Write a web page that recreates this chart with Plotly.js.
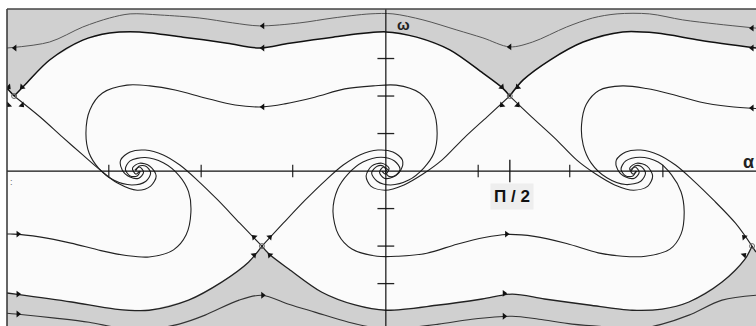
<!DOCTYPE html>
<html>
<head>
<meta charset="utf-8">
<script src="https://cdn.plot.ly/plotly-3.0.1.min.js"></script>
<style>
  html, body { margin: 0; padding: 0; background: #ffffff; }
  #plot { width: 756px; height: 326px; }
</style>
</head>
<body>
<div id="plot"></div>
<script>
// Phase portrait of a damped rotor: angle alpha (rad) against angular velocity omega.
const X_RANGE = [-4.80, 4.69];
const Y_RANGE = [-4.13, 4.32];

// Separatrix bounding the upper band (through the saddles at alpha = -3pi/2 and pi/2)
const sepTopX = [-4.80,-4.71,null,-4.71,-4.55,-4.26,-3.84,-3.50,-3.12,-2.57,-2.01,-1.60,-1.22,-0.67,0,0.39,0.81,1.23,1.48,1.57,null,1.57,1.74,2.08,2.50,3.00,3.43,3.98,4.69];
const sepTopY = [2.21,2.00,null,2.00,2.35,2.96,3.49,3.68,3.71,3.57,3.41,3.28,3.41,3.57,3.71,3.57,3.23,2.61,2.21,2.00,null,2.00,2.43,2.96,3.44,3.71,3.68,3.49,3.28];

// Separatrix bounding the lower band (through the saddles at alpha = -pi/2 and 3pi/2)
const sepBotX = [-4.80,-4.69,-3.98,-3.43,-3.00,-2.50,-2.08,-1.74,-1.57,null,-1.57,-1.48,-1.23,-0.81,-0.39,0,0.67,1.22,1.60,2.01,2.57,3.12,3.50,3.84,4.26,4.55,4.64,null,4.64,4.69];
const sepBotY = [-3.25,-3.28,-3.49,-3.68,-3.71,-3.44,-2.96,-2.43,-2.00,null,-2.00,-2.21,-2.61,-3.23,-3.57,-3.71,-3.57,-3.41,-3.28,-3.41,-3.57,-3.71,-3.68,-3.49,-2.96,-2.35,-2.00,null,-2.00,-2.16];

// Rotating trajectories inside the bands
const runTopX = [-4.80,-4.26,-3.84,-3.50,-3.24,-2.86,-2.36,-1.94,-1.60,-1.09,-0.67,-0.20,0.09,0.47,0.90,1.23,1.57,1.86,2.29,2.62,2.93,3.34,3.76,4.19,4.69];
const runTopY = [3.28,3.44,3.84,4.08,4.19,4.16,4.08,3.95,3.87,3.95,4.08,4.19,4.19,4.03,3.76,3.55,3.31,3.44,3.84,4.08,4.19,4.19,4.03,3.92,3.81];
const runBotX = [-4.80,-4.69,-4.19,-3.76,-3.34,-2.93,-2.62,-2.29,-1.86,-1.57,-1.23,-0.90,-0.47,-0.09,0.20,0.67,1.09,1.60,1.94,2.36,2.86,3.24,3.50,3.84,4.26,4.69];
const runBotY = [-3.79,-3.81,-3.92,-4.03,-4.19,-4.19,-4.08,-3.84,-3.44,-3.31,-3.55,-3.76,-4.03,-4.19,-4.19,-4.08,-3.95,-3.87,-3.95,-4.08,-4.16,-4.19,-4.08,-3.84,-3.44,-3.31];

// Trajectory leaving the focus at 0, looping over the top and winding into the focus at -pi
const upperLoopX = [0.01,-0.03,-0.11,-0.18,-0.11,0.06,0.29,0.48,0.61,0.65,0.60,0.43,0.13,-0.16,-0.52,-0.90,-1.28,-1.56,-1.91,-2.29,-2.67,-2.99,-3.28,-3.59,-3.75,-3.80,-3.76,-3.64,-3.45,-3.22,-3.04,-2.98,-3.04,-3.13,-3.17];
const upperLoopY = [0,0.13,0.13,-0.05,-0.27,-0.37,-0.24,0.08,0.48,1.01,1.63,2.08,2.29,2.27,2.19,1.97,1.79,1.71,1.76,1.95,2.16,2.27,2.29,2.08,1.63,1.01,0.48,0.08,-0.24,-0.37,-0.27,-0.05,0.13,0.13,0];
// Its counterpart below the axis, from the focus at 0 to the focus at pi
const lowerLoopX = [-0.01,0.03,0.11,0.18,0.11,-0.06,-0.29,-0.48,-0.61,-0.67,-0.60,-0.43,-0.11,0.16,0.52,0.90,1.25,1.53,1.88,2.29,2.69,3.00,3.29,3.60,3.74,3.78,3.74,3.62,3.45,3.22,3.04,2.98,3.04,3.13,3.17];
const lowerLoopY = [0,-0.13,-0.13,0.05,0.27,0.37,0.24,-0.08,-0.48,-1.08,-1.70,-2.08,-2.27,-2.27,-2.19,-1.95,-1.77,-1.69,-1.74,-1.93,-2.18,-2.27,-2.27,-2.08,-1.68,-1.08,-0.55,-0.10,0.24,0.37,0.27,0.05,-0.13,-0.13,0];
// Partial trajectories entering from the right and left edges
const rightLoopX = [4.74,4.35,3.98,3.62,3.30,3.00,2.70,2.54,2.48,2.50,2.60,2.80,3.04,3.23,3.29,3.23,3.15,3.11];
const rightLoopY = [1.66,1.72,1.84,2.05,2.20,2.27,2.15,1.78,1.25,0.70,0.22,-0.18,-0.36,-0.27,-0.05,0.13,0.13,0];
const leftLoopX = [-5.00,-4.72,-4.37,-3.99,-3.61,-3.29,-3.00,-2.69,-2.53,-2.47,-2.50,-2.62,-2.82,-3.05,-3.24,-3.30,-3.24,-3.15,-3.11];
const leftLoopY = [-1.70,-1.68,-1.76,-1.92,-2.12,-2.25,-2.29,-2.10,-1.70,-1.10,-0.55,-0.12,0.22,0.36,0.27,0.05,-0.13,-0.13,0];

// Outgoing separatrices from each saddle winding into neighbouring foci
const sadA1X = [-4.71,-4.38,-4.10,-3.84,-3.62,-3.40,-3.15,-2.98,-2.91,-2.99,-3.12,-3.21,-3.17,-3.12];
const sadA1Y = [2.00,1.44,0.91,0.43,0.03,-0.32,-0.51,-0.40,-0.13,0.13,0.21,0.08,-0.08,0];
const sadB1X = [-1.57,-1.85,-2.13,-2.39,-2.61,-2.82,-3.05,-3.24,-3.36,-3.34,-3.24,-3.13,-3.07,-3.12,-3.18];
const sadB1Y = [-2.00,-1.39,-0.77,-0.24,0.16,0.43,0.56,0.51,0.29,0.03,-0.16,-0.19,-0.03,0.11,0.03];
const sadB2X = [-1.57,-1.30,-1.02,-0.76,-0.54,-0.33,-0.10,0.09,0.21,0.19,0.09,-0.02,-0.08,-0.03,0.03];
const sadB2Y = [-2.00,-1.39,-0.77,-0.24,0.16,0.43,0.56,0.51,0.29,0.03,-0.16,-0.19,-0.03,0.11,0.03];
const sadC1X = [1.57,1.28,0.99,0.71,0.47,0.23,-0.01,-0.19,-0.25,-0.18,-0.05,0.04,0,-0.05];
const sadC1Y = [2.00,1.44,0.88,0.29,-0.08,-0.37,-0.51,-0.40,-0.13,0.13,0.21,0.08,-0.08,0];
const sadC2X = [1.57,1.85,2.14,2.42,2.66,2.90,3.14,3.32,3.38,3.31,3.18,3.09,3.13,3.18];
const sadC2Y = [2.00,1.44,0.88,0.29,-0.08,-0.37,-0.51,-0.40,-0.13,0.13,0.21,0.08,-0.08,0];
const sadD1X = [4.64,4.43,4.15,3.89,3.67,3.46,3.23,3.04,2.92,2.94,3.04,3.15,3.21,3.16,3.10];
const sadD1Y = [-2.00,-1.39,-0.77,-0.24,0.16,0.43,0.56,0.51,0.29,0.03,-0.16,-0.19,-0.03,0.11,0.03];

// Saddle points
const saddleX = [-4.71, 1.57, -1.57, 4.64];
const saddleY = [2.00, 2.00, -2.00, -2.00];

// Direction arrows (angle in degrees, clockwise from up)
const arrowX = [-4.70,-1.56,1.57,4.64, -1.56,4.64, -1.56, 4.64,
                -4.66,-4.66,-4.66, -1.56, 1.50, 1.50, 1.53,
                -4.78,-4.61,-4.78,-4.61, 1.47,1.67,1.47,1.67,
                -1.67,-1.47,-1.67,-1.47, 4.54,4.54];
const arrowY = [3.28,3.87,3.31,3.81, 3.28,3.28, 1.71, 1.68,
                -1.68,-3.28,-3.81, -3.31, -3.26, -3.87, -1.68,
                2.24,2.24,1.76,1.76, 2.24,2.24,1.76,1.76,
                -2.24,-2.24,-1.76,-1.76, -2.24,-1.76];
const arrowAngle = [270,270,270,270, 270,270, 270, 270,
                    90,90,90, 90, 90, 90, 90,
                    135,225,225,135, 135,225,225,135,
                    45,315,315,45, 45,315];

// Axis tick positions
const alphaTicks = [-3.51, -2.34, -1.18, 1.17, 2.33, 3.51];
const alphaMark = [1.571];
const omegaTicks = [-3, -2, -1, 1, 2, 3];

const BAND = '#d0d0d0';
const X_FAR = [-5.2, 5.2];
const Y_FAR = [-4.6, 4.8];

function band(xs, ys, yEdge) {
  const px = [], py = [];
  xs.forEach((v, i) => { if (v !== null) { px.push(v); py.push(ys[i]); } });
  px.unshift(X_FAR[0]); py.unshift(py[0]);
  px.push(X_FAR[1], X_FAR[1], X_FAR[0], X_FAR[0]);
  py.push(py[py.length - 1], yEdge, yEdge, py[0]);
  return { x: px, y: py, type: 'scatter', mode: 'lines', fill: 'toself',
           fillcolor: BAND, line: { width: 0 }, hoverinfo: 'skip' };
}

function path(xs, ys, color, width) {
  return { x: xs, y: ys, type: 'scatter', mode: 'lines',
           line: { color: color, width: width, shape: 'spline', smoothing: 0.9 },
           connectgaps: false, hoverinfo: 'skip' };
}

const traces = [
  band(sepTopX, sepTopY, Y_FAR[1]),
  band(sepBotX, sepBotY, Y_FAR[0]),
  path(runTopX, runTopY, '#555555', 1.0),
  path(runBotX, runBotY, '#333333', 1.1),
  path(sepTopX, sepTopY, '#111111', 1.5),
  path(sepBotX, sepBotY, '#222222', 1.3),
  path(upperLoopX, upperLoopY, '#222222', 1.1),
  path(lowerLoopX, lowerLoopY, '#222222', 1.1),
  path(rightLoopX, rightLoopY, '#222222', 1.1),
  path(leftLoopX, leftLoopY, '#222222', 1.1),
  path(sadA1X, sadA1Y, '#222222', 1.1),
  path(sadB1X, sadB1Y, '#222222', 1.1),
  path(sadB2X, sadB2Y, '#222222', 1.1),
  path(sadC1X, sadC1Y, '#222222', 1.1),
  path(sadC2X, sadC2Y, '#222222', 1.1),
  path(sadD1X, sadD1Y, '#222222', 1.1),
  { x: alphaTicks, y: alphaTicks.map(() => 0), type: 'scatter', mode: 'markers',
    marker: { symbol: 'line-ns', size: 9, color: '#222222', line: { width: 1.2, color: '#222222' } }, hoverinfo: 'skip' },
  { x: alphaMark, y: [0], type: 'scatter', mode: 'markers',
    marker: { symbol: 'line-ns', size: 16, color: '#222222', line: { width: 1.4, color: '#222222' } }, hoverinfo: 'skip' },
  { x: omegaTicks.map(() => 0), y: omegaTicks, type: 'scatter', mode: 'markers',
    marker: { symbol: 'line-ew', size: 12, color: '#222222', line: { width: 1.3, color: '#222222' } }, hoverinfo: 'skip' },
  { x: saddleX, y: saddleY, type: 'scatter', mode: 'markers',
    marker: { symbol: 'circle-open', size: 5, color: '#666666', line: { width: 1, color: '#666666' } }, hoverinfo: 'skip' },
  { x: arrowX, y: arrowY, type: 'scatter', mode: 'markers',
    marker: { symbol: 'triangle-up', size: 6, angle: arrowAngle, color: '#111111' }, hoverinfo: 'skip' }
];

const layout = {
  width: 756, height: 326,
  margin: { l: 7, r: 0, t: 9, b: 0 },
  paper_bgcolor: '#ffffff',
  plot_bgcolor: '#fbfbfb',
  showlegend: false,
  font: { family: 'Arial, Liberation Sans, sans-serif', color: '#222222' },
  xaxis: { range: X_RANGE, showgrid: false, zeroline: false, showticklabels: false, ticks: '', fixedrange: true },
  yaxis: { range: Y_RANGE, showgrid: false, zeroline: false, showticklabels: false, ticks: '', fixedrange: true },
  shapes: [
    { type: 'line', layer: 'above', xref: 'x', yref: 'paper', x0: 0, x1: 0, y0: 0, y1: 1, line: { color: '#111111', width: 1.2 } },
    { type: 'line', layer: 'above', xref: 'paper', yref: 'y', x0: 0, x1: 1, y0: 0, y1: 0, line: { color: '#111111', width: 1.2 } },
    { type: 'line', layer: 'above', xref: 'paper', yref: 'paper', x0: 0, x1: 0, y0: 0, y1: 1, line: { color: '#333333', width: 1.5 } },
    { type: 'line', layer: 'above', xref: 'paper', yref: 'paper', x0: 0, x1: 1, y0: 1, y1: 1, line: { color: '#444444', width: 1.5 } }
  ],
  annotations: [
    { x: 0.22, y: 3.92, xref: 'x', yref: 'y', text: '<b>ω</b>', showarrow: false,
      font: { size: 15, color: '#222222' } },
    { x: 4.69, y: 0.24, xref: 'x', yref: 'y', xanchor: 'right', text: '<b>α</b>', showarrow: false,
      font: { size: 18, color: '#222222' } },
    { x: 1.60, y: -0.67, xref: 'x', yref: 'y', text: '<b>Π / 2</b>', showarrow: false,
      bgcolor: '#eeeeee', borderpad: 3, font: { size: 17, color: '#111111' } },
    { x: -4.74, y: -0.30, xref: 'x', yref: 'y', text: ':', showarrow: false,
      font: { size: 9, color: '#666666' } }
  ]
};

Plotly.newPlot('plot', traces, layout, { staticPlot: true, displayModeBar: false });
</script>
</body>
</html>
